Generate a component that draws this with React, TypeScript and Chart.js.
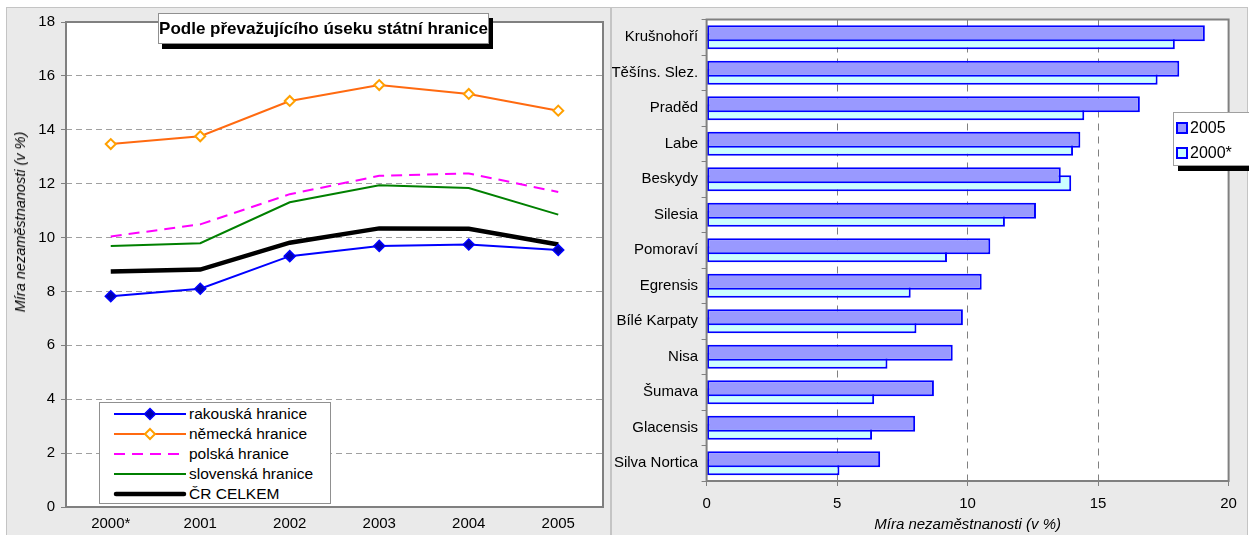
import React, { useEffect, useRef } from "react";
import { Chart, registerables } from "chart.js";

Chart.register(...registerables);

// ---------- data ----------
const years = ["2000*", "2001", "2002", "2003", "2004", "2005"];
const rakouska = [7.82, 8.1, 9.31, 9.69, 9.74, 9.54];
const nemecka = [13.47, 13.76, 15.07, 15.66, 15.33, 14.71];
const polska = [10.04, 10.49, 11.61, 12.29, 12.38, 11.69];
const slovenska = [9.69, 9.79, 11.31, 11.94, 11.84, 10.85];
const crCelkem = [8.74, 8.81, 9.81, 10.34, 10.33, 9.74];

const regions = [
  "Krušnohoří",
  "Těšíns. Slez.",
  "Praděd",
  "Labe",
  "Beskydy",
  "Silesia",
  "Pomoraví",
  "Egrensis",
  "Bílé Karpaty",
  "Nisa",
  "Šumava",
  "Glacensis",
  "Silva Nortica",
];
const rate2005 = [19.09, 18.11, 16.6, 14.32, 13.57, 12.62, 10.87, 10.54, 9.82, 9.43, 8.71, 7.99, 6.65];
const rate2000 = [17.94, 17.28, 14.47, 14.04, 13.97, 11.43, 9.21, 7.82, 8.04, 6.93, 6.42, 6.34, 5.09];

const seriesLabels = ["rakouská hranice", "německá hranice", "polská hranice", "slovenská hranice", "ČR CELKEM"];
const barLabels = ["2005", "2000*"];
const titleText = "Podle převažujícího úseku státní hranice";
const axisTitle = "Míra nezaměstnanosti (v %)";

const FONT = "'Liberation Sans', Arial, sans-serif";

const framePlugin = {
  id: "frame",
  beforeDraw(chart: any) {
    const { ctx, chartArea: a } = chart;
    ctx.save();
    ctx.fillStyle = "#FFFFFF";
    ctx.fillRect(a.left, a.top, a.right - a.left, a.bottom - a.top);
    ctx.restore();
  },
  afterDatasetsDraw(chart: any) {
    const { ctx, chartArea: a } = chart;
    ctx.save();
    ctx.strokeStyle = "#808080";
    ctx.lineWidth = 2;
    ctx.strokeRect(a.left, a.top, a.right - a.left, a.bottom - a.top);
    ctx.restore();
  },
};

function LeftChart() {
  const ref = useRef<HTMLCanvasElement>(null);
  useEffect(() => {
    const c = new Chart(ref.current!, {
      type: "line",
      data: {
        labels: years,
        datasets: [
          {
            label: seriesLabels[4],
            data: crCelkem,
            borderColor: "#000000",
            borderWidth: 4.5,
            pointRadius: 0,
            order: 5,
          },
          {
            label: seriesLabels[3],
            data: slovenska,
            borderColor: "#008000",
            borderWidth: 2,
            pointRadius: 0,
            order: 4,
          },
          {
            label: seriesLabels[2],
            data: polska,
            borderColor: "#FF00FF",
            borderWidth: 2,
            borderDash: [11, 7],
            pointRadius: 0,
            order: 3,
          },
          {
            label: seriesLabels[1],
            data: nemecka,
            borderColor: "#FF6A10",
            borderWidth: 2,
            pointStyle: "rectRot",
            pointRadius: 5,
            pointBorderWidth: 2,
            pointBorderColor: "#FFA000",
            pointBackgroundColor: "#FFFFFF",
            order: 2,
          },
          {
            label: seriesLabels[0],
            data: rakouska,
            borderColor: "#0000FF",
            borderWidth: 2,
            pointStyle: "rectRot",
            pointRadius: 5.5,
            pointBorderWidth: 1.5,
            pointBorderColor: "#0000FF",
            pointBackgroundColor: "#0000B0",
            order: 1,
          },
        ],
      },
      options: {
        responsive: false,
        animation: false,
        layout: { padding: { left: 10, right: 3, top: 14.5, bottom: 0 } },
        plugins: { legend: { display: false }, tooltip: { enabled: false } },
        elements: { line: { tension: 0 } },
        scales: {
          x: {
            offset: true,
            grid: { display: false, drawTicks: false },
            border: { display: false },
            ticks: { color: "#000", font: { family: FONT, size: 15 }, padding: 8 },
            afterFit: (s: any) => {
              s.height = 28;
            },
          },
          y: {
            min: 0,
            max: 18,
            ticks: { stepSize: 2, color: "#000", font: { family: FONT, size: 15 }, padding: 6 },
            grid: {
              color: "#A0A0A0",
              lineWidth: 1,
              drawTicks: true,
              tickLength: 5,
              tickColor: "#808080",
              tickBorderDash: [],
            },
            border: { display: false, dash: [6, 4] },
            afterFit: (s: any) => {
              s.width = 50;
            },
          },
        },
      },
      plugins: [framePlugin],
    } as any);
    return () => c.destroy();
  }, []);
  return (
    <canvas
      ref={ref}
      width={604}
      height={528}
      style={{ position: "absolute", left: 6, top: 7, width: 604, height: 528 }}
    />
  );
}

function RightChart() {
  const ref = useRef<HTMLCanvasElement>(null);
  useEffect(() => {
    const c = new Chart(ref.current!, {
      type: "bar",
      data: {
        labels: regions,
        datasets: [
          {
            label: barLabels[0],
            data: rate2005,
            backgroundColor: "#9999FF",
            borderColor: "#0000FF",
            borderWidth: 2,
            borderSkipped: false,
          },
          {
            label: barLabels[1],
            data: rate2000,
            backgroundColor: "#CCFFFF",
            borderColor: "#0000FF",
            borderWidth: 2,
            borderSkipped: false,
          },
        ],
      },
      options: {
        indexAxis: "y",
        responsive: false,
        animation: false,
        layout: { padding: { left: 0, right: 18.4, top: 8, bottom: 0 } },
        datasets: { bar: { categoryPercentage: 0.46, barPercentage: 1.95 } },
        plugins: { legend: { display: false }, tooltip: { enabled: false } },
        scales: {
          x: {
            min: 0,
            max: 20,
            ticks: { stepSize: 5, color: "#000", font: { family: FONT, size: 15 }, padding: 9 },
            grid: {
              color: "#808080",
              lineWidth: 1,
              drawTicks: true,
              tickLength: 5,
              tickColor: "#808080",
              tickBorderDash: [],
            },
            border: { display: false, dash: [7, 6] },
            title: {
              display: true,
              text: axisTitle,
              color: "#000",
              font: { family: FONT, size: 15, style: "italic" },
              padding: { top: 0, bottom: 1 },
            },
            afterFit: (s: any) => {
              s.height = 54;
            },
          },
          y: {
            offset: true,
            ticks: { color: "#000", font: { family: FONT, size: 15 }, padding: 3.5 },
            grid: {
              offset: true,
              drawOnChartArea: false,
              drawTicks: true,
              tickLength: 5,
              tickColor: "#808080",
              color: "#808080",
            },
            border: { display: false },
            afterFit: (s: any) => {
              s.width = 94.6;
            },
          },
        },
      },
      plugins: [framePlugin],
    } as any);
    return () => c.destroy();
  }, []);
  return (
    <canvas
      ref={ref}
      width={635}
      height={528}
      style={{ position: "absolute", left: 612, top: 7, width: 635, height: 528 }}
    />
  );
}

function LegendLine({ kind }: { kind: number }) {
  const w = 74;
  const h = 20;
  const y = 10;
  if (kind === 0)
    return (
      <svg width={w} height={h} style={{ position: "absolute", left: 13, top: 0 }}>
        <line x1={1} y1={y} x2={73} y2={y} stroke="#0000FF" strokeWidth={2} />
        <polygon points={`37,${y - 5.5} 42.5,${y} 37,${y + 5.5} 31.5,${y}`} fill="#0000B0" stroke="#0000FF" strokeWidth={1.5} />
      </svg>
    );
  if (kind === 1)
    return (
      <svg width={w} height={h} style={{ position: "absolute", left: 13, top: 0 }}>
        <line x1={1} y1={y} x2={73} y2={y} stroke="#FF6A10" strokeWidth={2} />
        <polygon points={`37,${y - 5} 42,${y} 37,${y + 5} 32,${y}`} fill="#FFFFFF" stroke="#FFA000" strokeWidth={2} />
      </svg>
    );
  if (kind === 2)
    return (
      <svg width={w} height={h} style={{ position: "absolute", left: 13, top: 0 }}>
        <line x1={1} y1={y} x2={73} y2={y} stroke="#FF00FF" strokeWidth={2} strokeDasharray="11 7" />
      </svg>
    );
  if (kind === 3)
    return (
      <svg width={w} height={h} style={{ position: "absolute", left: 13, top: 0 }}>
        <line x1={1} y1={y} x2={73} y2={y} stroke="#008000" strokeWidth={2} />
      </svg>
    );
  return (
    <svg width={w} height={h} style={{ position: "absolute", left: 13, top: 0 }}>
      <line x1={3} y1={y} x2={71} y2={y} stroke="#000000" strokeWidth={4.5} strokeLinecap="round" />
    </svg>
  );
}

export default function App() {
  return (
    <div
      style={{
        position: "absolute",
        left: 0,
        top: 0,
        width: 1249,
        height: 535,
        overflow: "hidden",
        background: "#FFFFFF",
        fontFamily: FONT,
      }}
    >
      <div
        style={{
          position: "absolute",
          left: 6,
          top: 7,
          width: 605,
          height: 540,
          background: "#EAEAEA",
          border: "1px solid #C4C4C4",
          boxSizing: "border-box",
        }}
      />
      <div
        style={{
          position: "absolute",
          left: 611,
          top: 7,
          width: 637,
          height: 540,
          background: "#EAEAEA",
          border: "1px solid #C4C4C4",
          boxSizing: "border-box",
        }}
      />
      <LeftChart />
      <RightChart />

      {/* left y axis title */}
      <div
        style={{
          position: "absolute",
          left: 20,
          top: 222,
          transform: "translate(-50%, -50%) rotate(-90deg)",
          whiteSpace: "nowrap",
          fontStyle: "italic",
          fontSize: 14.5,
          color: "#000",
        }}
      >
        {axisTitle}
      </div>

      {/* title box */}
      <div
        style={{
          position: "absolute",
          left: 158,
          top: 13,
          width: 331,
          height: 31,
          background: "#FFFFFF",
          border: "1px solid #909090",
          boxSizing: "border-box",
          boxShadow: "4px 5px 0 #000000",
          display: "flex",
          alignItems: "center",
          justifyContent: "center",
          fontWeight: "bold",
          fontSize: 17,
          whiteSpace: "nowrap",
          color: "#000",
        }}
      >
        {titleText}
      </div>

      {/* left legend */}
      <div
        style={{
          position: "absolute",
          left: 99,
          top: 402,
          width: 232,
          height: 102,
          background: "#FFFFFF",
          border: "1px solid #909090",
          boxSizing: "border-box",
        }}
      >
        {seriesLabels.map((s, i) => (
          <div key={s} style={{ position: "absolute", left: 0, top: 1 + i * 20, height: 20, width: 230 }}>
            <LegendLine kind={i} />
            <div
              style={{
                position: "absolute",
                left: 89,
                top: 0,
                lineHeight: "20px",
                fontSize: 15.5,
                whiteSpace: "nowrap",
                color: "#000",
              }}
            >
              {s}
            </div>
          </div>
        ))}
      </div>

      {/* right legend */}
      <div
        style={{
          position: "absolute",
          left: 1173,
          top: 112,
          width: 90,
          height: 54,
          background: "#FFFFFF",
          border: "1px solid #A0A0A0",
          boxSizing: "border-box",
          boxShadow: "5px 5px 0 #000000",
        }}
      >
        {barLabels.map((s, i) => (
          <div key={s} style={{ position: "absolute", left: 0, top: 4 + i * 25, height: 22, width: 88 }}>
            <div
              style={{
                position: "absolute",
                left: 2,
                top: 5,
                width: 12,
                height: 12,
                boxSizing: "border-box",
                border: "2px solid #0000FF",
                background: i === 0 ? "#9999FF" : "#CCFFFF",
              }}
            />
            <div
              style={{
                position: "absolute",
                left: 16,
                top: 0,
                lineHeight: "22px",
                fontSize: 16,
                whiteSpace: "nowrap",
                color: "#000",
              }}
            >
              {s}
            </div>
          </div>
        ))}
      </div>
    </div>
  );
}
